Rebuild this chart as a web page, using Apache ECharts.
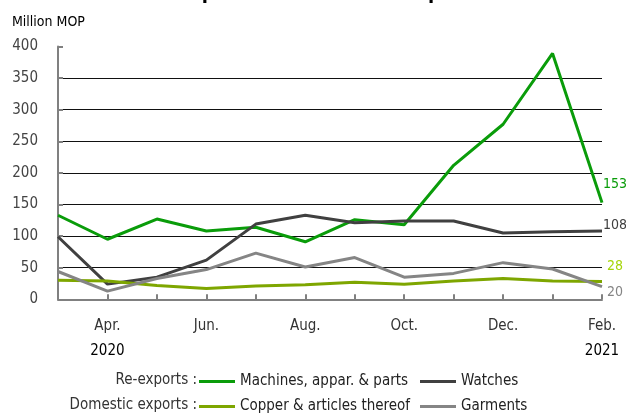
<!DOCTYPE html>
<html>
<head>
<meta charset="utf-8">
<script src="https://cdn.jsdelivr.net/npm/echarts@6/dist/echarts.min.js"></script>
<style>
  html, body { margin: 0; padding: 0; background: #fff; }
  #main { width: 626px; height: 416px; }
</style>
</head>
<body>
<div id="main"></div>
<script>
var months = ['Mar.', 'Apr.', 'May', 'Jun.', 'Jul.', 'Aug.', 'Sep.', 'Oct.', 'Nov.', 'Dec.', 'Jan.', 'Feb.'];
var years = { 'Apr.': '2020', 'Feb.': '2021' };
var machines = [133, 95, 127, 108, 114, 91, 126, 118, 212, 277, 389, 153];
var watches = [99, 24, 35, 62, 119, 133, 121, 124, 124, 105, 107, 108];
var copper = [30, 29, 22, 17, 21, 23, 27, 24, 29, 33, 29, 28];
var garments = [44, 13, 33, 47, 73, 51, 66, 35, 41, 58, 48, 20];

var FONT = '"Liberation Sans Narrow", "Arial Narrow", "DejaVu Sans Condensed", sans-serif';

var myChart = echarts.init(document.getElementById('main'));

function line(name, data, color, labelColor, offset) {
    return {
        name: name,
        type: 'line',
        data: data,
        symbol: 'none',
        lineStyle: { color: color, width: 3 },
        itemStyle: { color: color },
        endLabel: {
            show: true,
            formatter: '{c}',
            color: labelColor,
            fontFamily: FONT,
            fontSize: 14,
            distance: 1,
            offset: offset
        },
        animation: false
    };
}

function legendItem(name, left, top) {
    return {
        data: [name],
        left: left,
        top: top,
        icon: 'rect',
        itemWidth: 36,
        itemHeight: 3,
        padding: 0,
        textStyle: { fontFamily: FONT, fontSize: 15, color: '#222' }
    };
}

var option = {
    title: {
        text: 'Re-exports and domestic exports',
        left: 'center',
        top: -21,
        textStyle: { fontFamily: FONT, fontSize: 20, fontWeight: 'bold', color: '#000' }
    },
    grid: { left: 58, right: 24, top: 46.5, bottom: 116.7, containLabel: false },
    xAxis: {
        type: 'category',
        boundaryGap: false,
        data: months,
        axisLine: { lineStyle: { color: '#808080', width: 2 } },
        axisTick: { inside: true, length: 5, interval: 0, lineStyle: { color: '#808080', width: 2 } },
        axisLabel: {
            interval: function (i) { return i % 2 === 1; },
            margin: 14,
            lineHeight: 25,
            fontFamily: FONT,
            fontSize: 15,
            color: '#333',
            formatter: function (v) {
                return years[v] ? v + '\n{y|' + years[v] + '}' : v;
            },
            rich: { y: { fontFamily: FONT, fontSize: 15, color: '#000', lineHeight: 25 } }
        },
        splitLine: { show: false }
    },
    yAxis: {
        type: 'value',
        min: 0,
        max: 400,
        interval: 50,
        name: 'Million MOP',
        nameLocation: 'end',
        nameGap: 17,
        nameTextStyle: { fontFamily: FONT, fontSize: 14, color: '#000', align: 'left', padding: [0, 0, 0, -46] },
        axisLine: { show: true, lineStyle: { color: '#808080', width: 2 } },
        axisTick: { show: true, inside: true, length: 5, lineStyle: { color: '#808080', width: 2 } },
        axisLabel: { margin: 20, fontFamily: FONT, fontSize: 15, color: '#444' },
        splitLine: { show: true, showMaxLine: false, showMinLine: false, lineStyle: { color: '#111', width: 1 } }
    },
    legend: [
        legendItem('Machines, appar. & parts', 199, 374),
        legendItem('Watches', 420, 374),
        legendItem('Copper & articles thereof', 199, 399),
        legendItem('Garments', 420, 399)
    ],
    graphic: [
        { type: 'text', right: 429, top: 373, style: { text: 'Re-exports :', font: '15px ' + FONT, fill: '#333', textAlign: 'right' } },
        { type: 'text', right: 429, top: 398, style: { text: 'Domestic exports :', font: '15px ' + FONT, fill: '#333', textAlign: 'right' } }
    ],
    series: [
        line('Machines, appar. & parts', machines, '#0a9c0a', '#0a9c0a', [0, -18]),
        line('Watches', watches, '#404040', '#404040', [0, -6]),
        line('Copper & articles thereof', copper, '#7ea600', '#a6d60a', [4, -15]),
        line('Garments', garments, '#858585', '#858585', [4, 6])
    ]
};
myChart.setOption(option);
</script>
</body>
</html>
